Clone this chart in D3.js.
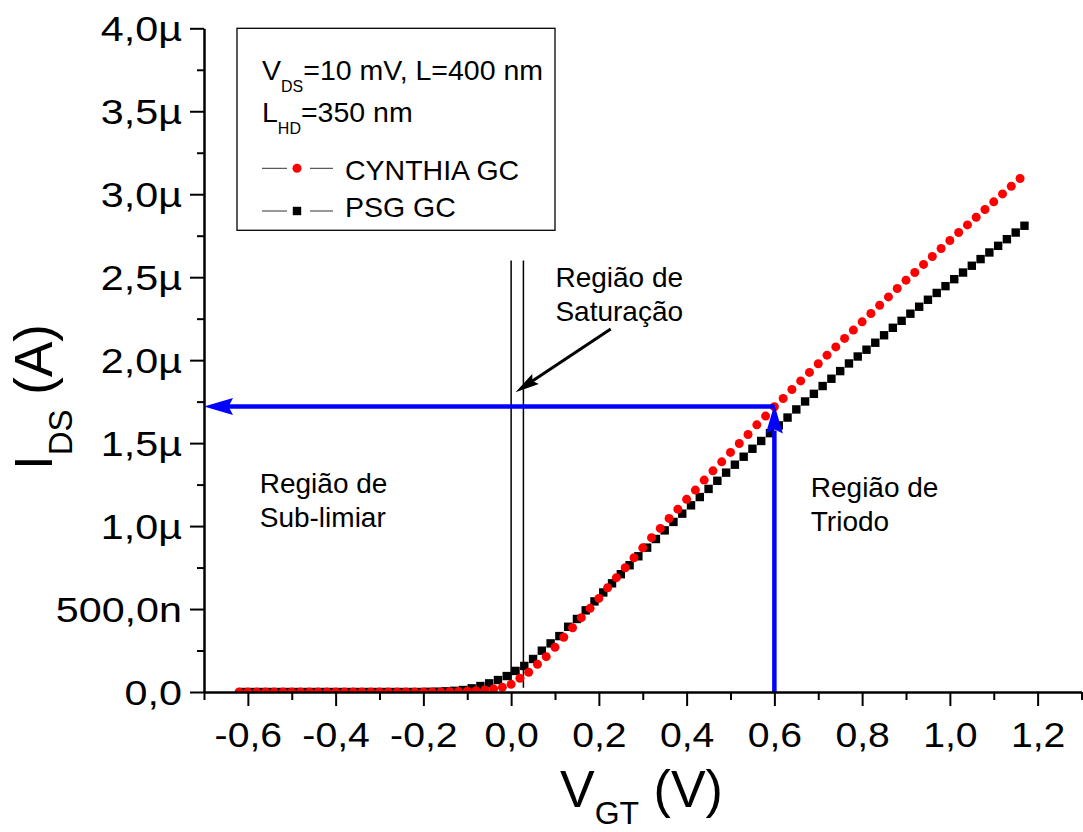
<!DOCTYPE html>
<html>

<head>
    <title>IDS x VGT - CYNTHIA GC / PSG GC</title>
    <script src="https://cdnjs.cloudflare.com/ajax/libs/d3/7.8.5/d3.min.js" type="text/JavaScript"></script>
    <style>
        body { margin: 0; background: #fff; }
        svg { display: block; font-family: "Liberation Sans", Arial, sans-serif; }
    </style>
</head>

<body>
    <svg width="1083" height="832"></svg>
    <script>
        // CYNTHIA GC (red circles), IDS in uA
        var vgtCynthia = [-0.62, -0.60, -0.58, -0.56, -0.54, -0.52, -0.50, -0.48, -0.46, -0.44, -0.42, -0.40,
            -0.38, -0.36, -0.34, -0.32, -0.30, -0.28, -0.26, -0.24, -0.22, -0.20, -0.18, -0.16,
            -0.14, -0.12, -0.10, -0.08, -0.06, -0.04, -0.02, 0.00, 0.02, 0.04, 0.06, 0.08, 0.10, 0.12,
            0.14, 0.16, 0.18, 0.20, 0.22, 0.24, 0.26, 0.28, 0.30, 0.32, 0.34, 0.36, 0.38, 0.40, 0.42,
            0.44, 0.46, 0.48, 0.50, 0.52, 0.54, 0.56, 0.58, 0.60, 0.62, 0.64, 0.66, 0.68, 0.70, 0.72,
            0.74, 0.76, 0.78, 0.80, 0.82, 0.84, 0.86, 0.88, 0.90, 0.92, 0.94, 0.96, 0.98, 1.00, 1.02,
            1.04, 1.06, 1.08, 1.10, 1.12, 1.14, 1.16]
        var idsCynthia = [0, 0, 0, 0, 0, 0, 0, 0, 0, 0, 0, 0,
            0, 0, 0, 0, 0, 0, 0, 0, 0, 0, 0, 0,
            0.002, 0.003, 0.005, 0.008, 0.012, 0.018, 0.028, 0.046, 0.083, 0.119, 0.167, 0.213, 0.269, 0.330,
            0.387, 0.448, 0.504, 0.564, 0.628, 0.689, 0.749, 0.809, 0.869, 0.930, 0.986, 1.046, 1.102, 1.161, 1.217,
            1.277, 1.333, 1.387, 1.444, 1.498, 1.552, 1.610, 1.663, 1.719, 1.769, 1.823, 1.875, 1.926, 1.978, 2.030,
            2.080, 2.131, 2.181, 2.231, 2.281, 2.331, 2.381, 2.432, 2.482, 2.528, 2.577, 2.625, 2.673, 2.721, 2.769,
            2.815, 2.861, 2.908, 2.954, 3.002, 3.048, 3.095]

        // PSG GC (black squares), IDS in uA
        var vgtPsg = [-0.61, -0.59, -0.57, -0.55, -0.53, -0.51, -0.49, -0.47, -0.45, -0.43, -0.41, -0.39,
            -0.37, -0.35, -0.33, -0.31, -0.29, -0.27, -0.25, -0.23, -0.21, -0.19, -0.17, -0.15,
            -0.13, -0.11, -0.09, -0.07, -0.05, -0.03, -0.01, 0.01, 0.03, 0.05, 0.07, 0.09, 0.11, 0.13,
            0.15, 0.17, 0.19, 0.21, 0.23, 0.25, 0.27, 0.29, 0.31, 0.33, 0.35, 0.37, 0.39, 0.41, 0.43,
            0.45, 0.47, 0.49, 0.51, 0.53, 0.55, 0.57, 0.59, 0.61, 0.63, 0.65, 0.67, 0.69, 0.71, 0.73,
            0.75, 0.77, 0.79, 0.81, 0.83, 0.85, 0.87, 0.89, 0.91, 0.93, 0.95, 0.97, 0.99, 1.01, 1.03,
            1.05, 1.07, 1.09, 1.11, 1.13, 1.15, 1.17]
        var idsPsg = [0, 0, 0, 0, 0, 0, 0, 0, 0, 0, 0, 0,
            0, 0, 0, 0, 0, 0, 0, 0, 0, 0.001, 0.002, 0.004,
            0.007, 0.012, 0.022, 0.036, 0.052, 0.072, 0.096, 0.127, 0.157, 0.199, 0.249, 0.293, 0.337, 0.393,
            0.440, 0.492, 0.546, 0.600, 0.655, 0.710, 0.764, 0.818, 0.870, 0.922, 0.974, 1.025, 1.075, 1.125, 1.175,
            1.224, 1.273, 1.322, 1.370, 1.418, 1.466, 1.513, 1.560, 1.607, 1.654, 1.703, 1.751, 1.797, 1.844, 1.888,
            1.934, 1.980, 2.022, 2.063, 2.105, 2.150, 2.195, 2.237, 2.280, 2.322, 2.364, 2.405, 2.446, 2.488, 2.528,
            2.569, 2.609, 2.649, 2.689, 2.729, 2.769, 2.810]

        var xTicks = [-0.6, -0.4, -0.2, 0.0, 0.2, 0.4, 0.6, 0.8, 1.0, 1.2]
        var xTickLabels = ["-0,6", "-0,4", "-0,2", "0,0", "0,2", "0,4", "0,6", "0,8", "1,0", "1,2"]
        var xMinorTicks = [-0.7, -0.5, -0.3, -0.1, 0.1, 0.3, 0.5, 0.7, 0.9, 1.1, 1.3]
        var yTicks = [0, 0.5, 1.0, 1.5, 2.0, 2.5, 3.0, 3.5, 4.0]
        var yTickLabels = ["0,0", "500,0n", "1,0\u00b5", "1,5\u00b5", "2,0\u00b5", "2,5\u00b5", "3,0\u00b5", "3,5\u00b5", "4,0\u00b5"]
        var yMinorTicks = [0.25, 0.75, 1.25, 1.75, 2.25, 2.75, 3.25, 3.75]

        // annotations (data units: V, uA)
        var markPoint = { v: 0.6, i: 1.72 }
        var satLines = [0.0, 0.028]
        var satArrow = { v1: 0.227, i1: 2.187, v2: 0.010, i2: 1.807 }
        var regionLabels = [
            { lines: ["Regi\u00e3o de", "Sub-limiar"], v: -0.573, i: 1.199 },
            { lines: ["Regi\u00e3o de", "Satura\u00e7\u00e3o"], v: 0.101, i: 2.442 },
            { lines: ["Regi\u00e3o de", "Triodo"], v: 0.683, i: 1.176 }
        ]

        var x = d3.scaleLinear().domain([-0.7, 1.3]).range([204, 1081.5])
        var y = d3.scaleLinear().domain([0, 4]).range([692, 28.3])

        var svg = d3.select("svg")

        svg.append("defs").append("clipPath").attr("id", "plotClip")
            .append("rect")
            .attr("x", x.range()[0]).attr("y", y.range()[1])
            .attr("width", x.range()[1] - x.range()[0])
            .attr("height", y.range()[0] - y.range()[1])

        // legend box
        var legend = svg.append("g").attr("id", "legend")
        legend.append("rect")
            .attr("x", 237).attr("y", 28.3).attr("width", 318).attr("height", 202)
            .style("fill", "none").style("stroke", "black").style("stroke-width", "1.3px")

        var l1 = legend.append("text").attr("x", 262).attr("y", 80).style("font-size", "28.5px")
        l1.append("tspan").text("V")
        l1.append("tspan").attr("dy", 11.7).style("font-size", "16px").text("DS")
        l1.append("tspan").attr("dy", -11.7).text("=10 mV, L=400 nm")

        var l2 = legend.append("text").attr("x", 262).attr("y", 121.7).style("font-size", "28.5px")
        l2.append("tspan").text("L")
        l2.append("tspan").attr("dy", 12).style("font-size", "16px").text("HD")
        l2.append("tspan").attr("dy", -12).text("=350 nm")

        var legendRows = [{ name: "CYNTHIA GC", sym: "circle", y: 168.3, base: 180 },
                          { name: "PSG GC", sym: "square", y: 211, base: 217 }]
        legendRows.forEach(function (r) {
            legend.append("line").attr("x1", 262).attr("x2", 287).attr("y1", r.y).attr("y2", r.y)
                .style("stroke", "#333").style("stroke-width", "1px")
            legend.append("line").attr("x1", 310).attr("x2", 333).attr("y1", r.y).attr("y2", r.y)
                .style("stroke", "#333").style("stroke-width", "1px")
            if (r.sym == "circle") {
                legend.append("circle").attr("cx", 297).attr("cy", r.y).attr("r", 4.5).style("fill", "red")
            } else {
                legend.append("rect").attr("x", 297 - 4.2).attr("y", r.y - 4.2)
                    .attr("width", 8.4).attr("height", 8.4).style("fill", "black")
            }
            legend.append("text").attr("x", 345).attr("y", r.base).style("font-size", "28.5px").text(r.name)
        })

        // saturation region lines
        svg.append("g").selectAll("line")
            .data(satLines)
            .enter().append("line")
            .attr("x1", d => x(d)).attr("x2", d => x(d))
            .attr("y1", y(2.6)).attr("y2", y(0.025))
            .style("stroke", "black").style("stroke-width", "1.5px")

        // data
        var plot = svg.append("g").attr("clip-path", "url(#plotClip)")

        plot.selectAll("rect.psg")
            .data(vgtPsg.map((v, i) => ({ v: v, i: idsPsg[i] })))
            .enter().append("rect")
            .attr("class", "psg")
            .attr("x", d => x(d.v) - 4.2)
            .attr("y", d => y(d.i) - 4.2)
            .attr("width", 8.4).attr("height", 8.4)
            .style("fill", "black")

        plot.selectAll("circle.cyn")
            .data(vgtCynthia.map((v, i) => ({ v: v, i: idsCynthia[i] })))
            .enter().append("circle")
            .attr("class", "cyn")
            .attr("cx", d => x(d.v))
            .attr("cy", d => y(d.i))
            .attr("r", 4.5)
            .style("fill", "red")

        function arrowHead(g, tx, ty, angle, len, wid, color) {
            var p = [[0, 0], [len, -wid / 2], [len * 0.85, 0], [len, wid / 2]]
            g.append("path")
                .attr("d", "M" + p.map(q => q.join(",")).join("L") + "Z")
                .attr("transform", `translate(${tx},${ty}) rotate(${angle})`)
                .style("fill", color)
        }

        // blue marker arrows
        var blue = svg.append("g").attr("id", "blueArrows")
        blue.append("line")
            .attr("x1", x(markPoint.v)).attr("y1", y(markPoint.i))
            .attr("x2", x(-0.7) + 24).attr("y2", y(markPoint.i))
            .style("stroke", "#0000ff").style("stroke-width", "4.5px")
        arrowHead(blue, x(-0.7), y(markPoint.i), 0, 29, 17, "#0000ff")
        blue.append("line")
            .attr("x1", x(markPoint.v)).attr("y1", y(0))
            .attr("x2", x(markPoint.v)).attr("y2", y(markPoint.i) + 24)
            .style("stroke", "#0000ff").style("stroke-width", "4.5px")
        arrowHead(blue, x(markPoint.v), y(markPoint.i) - 2, 90, 29, 17, "#0000ff")

        // black arrow to saturation lines
        var ax1 = x(satArrow.v1), ay1 = y(satArrow.i1), ax2 = x(satArrow.v2), ay2 = y(satArrow.i2)
        var ang = Math.atan2(ay1 - ay2, ax1 - ax2)
        svg.append("line")
            .attr("x1", ax1).attr("y1", ay1)
            .attr("x2", ax2 + 18 * Math.cos(ang)).attr("y2", ay2 + 18 * Math.sin(ang))
            .style("stroke", "black").style("stroke-width", "3px")
        arrowHead(svg, ax2, ay2, ang * 180 / Math.PI, 24, 12, "black")

        // region labels
        regionLabels.forEach(function (r) {
            var t = svg.append("text").attr("x", x(r.v)).attr("y", y(r.i)).style("font-size", "28px")
            r.lines.forEach(function (s, k) {
                t.append("tspan").attr("x", x(r.v)).attr("dy", k == 0 ? 0 : 34).text(s)
            })
        })

        // axes
        var xAxis = svg.append("g").attr("transform", `translate(0,${y(0)})`)
            .call(d3.axisBottom(x).tickValues(xTicks).tickSize(14).tickSizeOuter(0)
                .tickFormat((d, i) => xTickLabels[i]))
        svg.append("g").attr("transform", `translate(0,${y(0)})`)
            .call(d3.axisBottom(x).tickValues(xMinorTicks).tickSize(8).tickSizeOuter(0).tickFormat(""))
            .select(".domain").remove()
        xAxis.selectAll("text")
            .attr("y", 55).attr("dy", 0)
            .attr("transform", "scale(1.12,1)")
            .style("font-size", "35px").style("font-family", "Liberation Sans, Arial, sans-serif")

        var yAxis = svg.append("g").attr("transform", `translate(${x(-0.7)},0)`)
            .call(d3.axisLeft(y).tickValues(yTicks).tickSize(14).tickSizeOuter(0)
                .tickFormat((d, i) => yTickLabels[i]))
        svg.append("g").attr("transform", `translate(${x(-0.7)},0)`)
            .call(d3.axisLeft(y).tickValues(yMinorTicks).tickSize(7).tickSizeOuter(0).tickFormat(""))
            .select(".domain").remove()
        yAxis.selectAll("text")
            .attr("x", -22 / 1.18).attr("dy", "0.36em")
            .attr("transform", "scale(1.18,1)")
            .style("font-size", "35px").style("font-family", "Liberation Sans, Arial, sans-serif")

        svg.selectAll(".domain").style("stroke-width", "2.5px")
        svg.selectAll(".tick line").style("stroke-width", "2px")

        // axis titles
        var xt = svg.append("text").attr("x", 560).attr("y", 807).style("font-size", "52px")
        xt.append("tspan").text("V")
        xt.append("tspan").attr("dy", 17).style("font-size", "32px").text("GT")
        xt.append("tspan").attr("dy", -17).text(" (V)")

        var yt = svg.append("text").attr("transform", "translate(52,470) rotate(-90)").style("font-size", "53px")
        yt.append("tspan").text("I")
        yt.append("tspan").attr("dy", 20).style("font-size", "33px").text("DS")
        yt.append("tspan").attr("dy", -20).text(" (A)")
    </script>
</body>

</html>
